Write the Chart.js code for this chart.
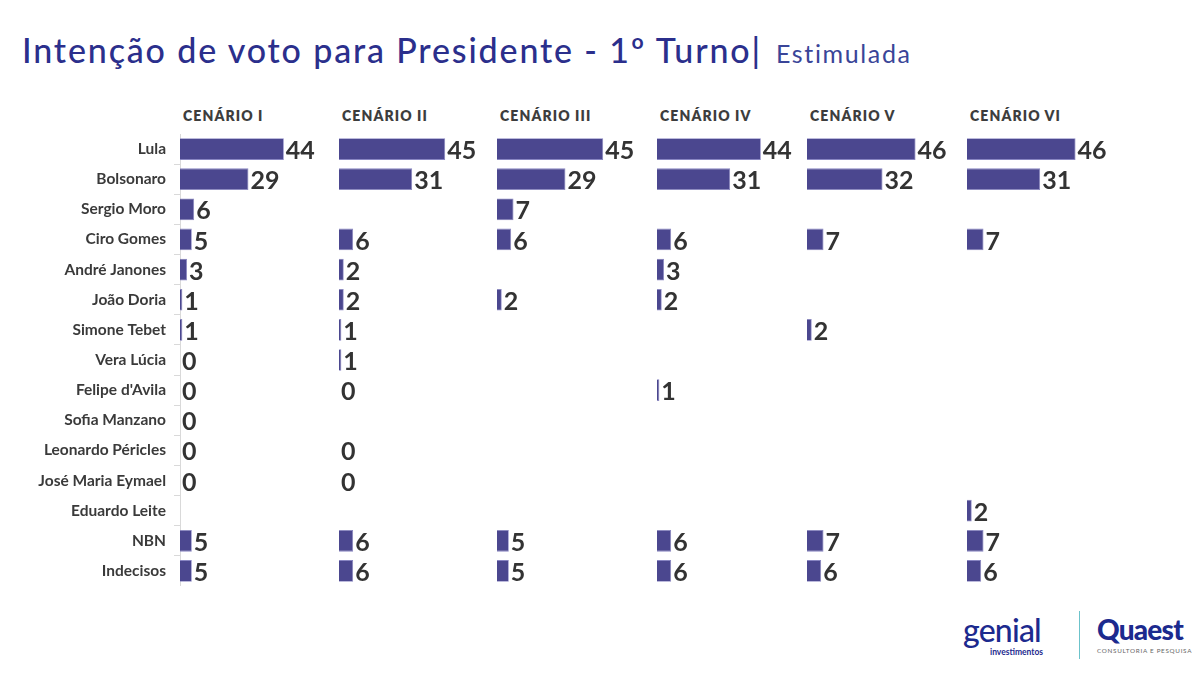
<!DOCTYPE html>
<html>
<head>
<meta charset="utf-8">
<script src="https://cdn.jsdelivr.net/npm/chart.js@4"></script>
<style>
  html,body{margin:0;padding:0;background:#fff;}
  #page{position:relative;width:1200px;height:675px;overflow:hidden;font-family:Lato, sans-serif;}
  #title{position:absolute;left:22px;top:29px;white-space:nowrap;color:#2b2f8c;font-family:Lato, sans-serif;}
  #title span{display:inline-block;}
  #title .main{font-size:34px;font-weight:500;}
  #title .sub{font-size:25px;font-weight:400;color:#3a4598;margin-left:14px;}
  .hdr{position:absolute;top:107px;font-size:14px;font-weight:800;color:#3d3d3d;white-space:nowrap;letter-spacing:1.1px;}
  .panel{position:absolute;top:134px;height:452px;}
  .panel canvas{display:block;}
  #logo1{position:absolute;left:963px;top:614px;color:#1c2a8e;font-family:Lato, sans-serif;}
  #logo1 .g{font-size:32px;font-weight:500;letter-spacing:-0.8px;line-height:32px;}
  #logo1 .s{position:absolute;left:27px;top:33px;font-size:8.5px;font-weight:700;white-space:nowrap;}
  #sep{position:absolute;left:1079px;top:611px;width:1px;height:48px;background:#6cc3cb;}
  #logo2{position:absolute;left:1097px;top:615px;color:#1c2a8e;font-family:Lato, sans-serif;}
  #logo2 .q{font-size:28px;font-weight:900;letter-spacing:-0.8px;line-height:28px;}
  #logo2 .s{font-size:6.3px;color:#666;letter-spacing:0.7px;white-space:nowrap;margin-top:4px;}
</style>
</head>
<body>
<div id="page">
  <div id="title"><span class="main" id="tmain">Intenção de voto para Presidente - 1º Turno|</span><span class="sub" id="tsub">Estimulada</span></div>
  <div id="logo1"><div class="g">genial</div><div class="s">investimentos</div></div>
  <div id="sep"></div>
  <div id="logo2"><div class="q">Quaest</div><div class="s">CONSULTORIA E PESQUISA</div></div>
</div>
<script>
// ---- data ----
const categories = ['Lula','Bolsonaro','Sergio Moro','Ciro Gomes','André Janones','João Doria','Simone Tebet','Vera Lúcia',"Felipe d'Avila",'Sofia Manzano','Leonardo Péricles','José Maria Eymael','Eduardo Leite','NBN','Indecisos'];
const scenarioNames = ['CENÁRIO I','CENÁRIO II','CENÁRIO III','CENÁRIO IV','CENÁRIO V','CENÁRIO VI'];
const cenario1 = [44,29,6,5,3,1,1,0,0,0,0,0,null,5,5];
const cenario2 = [45,31,null,6,2,2,1,1,0,null,0,0,null,6,6];
const cenario3 = [45,29,7,6,null,2,null,null,null,null,null,null,null,5,5];
const cenario4 = [44,31,null,6,3,2,null,null,1,null,null,null,null,6,6];
const cenario5 = [46,32,null,7,null,null,2,null,null,null,null,null,null,7,6];
const cenario6 = [46,31,null,7,null,null,null,null,null,null,null,null,2,7,6];
const scenarios = [cenario1,cenario2,cenario3,cenario4,cenario5,cenario6];

// ---- layout ----
const panelLeft = [180,339,497,657,807,967];
const areaWidth = 150;
const pxPerUnit = 2.36;
const axisWidth = 180;
const barColor = '#4b478f';

// stretch title text to the reference extent
function fitSpacing(el, target){
  const chars = el.textContent.length;
  const w = el.getBoundingClientRect().width;
  el.style.letterSpacing = ((target - w) / chars) + 'px';
}
fitSpacing(document.getElementById('tmain'), 740);
fitSpacing(document.getElementById('tsub'), 136);

const valueLabels = {
  id:'valueLabels',
  afterDatasetsDraw(chart){
    const ctx = chart.ctx;
    const meta = chart.getDatasetMeta(0);
    const data = chart.data.datasets[0].data;
    ctx.save();
    ctx.font = 'bold 25px Lato, sans-serif';
    ctx.fillStyle = '#333333';
    ctx.textAlign = 'left';
    ctx.textBaseline = 'middle';
    meta.data.forEach((bar,i)=>{
      const v = data[i];
      if (v === null || v === undefined) return;
      ctx.fillText(String(v), bar.x + 2, bar.y + 2);
    });
    ctx.restore();
  }
};

const page = document.getElementById('page');
scenarios.forEach((vals, idx)=>{
  const hdr = document.createElement('div');
  hdr.className = 'hdr';
  hdr.style.left = (panelLeft[idx] + 3) + 'px';
  hdr.textContent = scenarioNames[idx];
  page.appendChild(hdr);

  const box = document.createElement('div');
  box.className = 'panel';
  const withAxis = idx === 0;
  const left = withAxis ? 0 : panelLeft[idx];
  const width = withAxis ? axisWidth + areaWidth : areaWidth;
  box.style.left = left + 'px';
  box.style.width = width + 'px';
  const cv = document.createElement('canvas');
  box.appendChild(cv);
  page.appendChild(box);

  const yScale = {
    display:withAxis,
    border:{display:true, color:'#d9d9d9', width:1},
    grid:{drawOnChartArea:false, drawTicks:true, tickLength:6, color:'#d9d9d9', offset:true},
    ticks:{padding:8, color:'#3a3a3a', font:{family:'Lato, sans-serif', size:15.5, weight:'bold'}}
  };
  if (withAxis) yScale.afterFit = (s)=>{ s.width = axisWidth; s.paddingTop = 0; s.paddingBottom = 0; };

  new Chart(cv, {
    type:'bar',
    data:{labels:categories, datasets:[{data:vals, backgroundColor:barColor, borderColor:'#8885c2', borderWidth:0.8, barPercentage:0.9, categoryPercentage:0.8}]},
    options:{
      indexAxis:'y',
      responsive:true,
      maintainAspectRatio:false,
      animation:false,
      layout:{padding:0},
      plugins:{legend:{display:false}, tooltip:{enabled:false}},
      scales:{
        x:{display:false, min:0, max:areaWidth/pxPerUnit},
        y:yScale
      }
    },
    plugins:[valueLabels]
  });
});
</script>
</body>
</html>
